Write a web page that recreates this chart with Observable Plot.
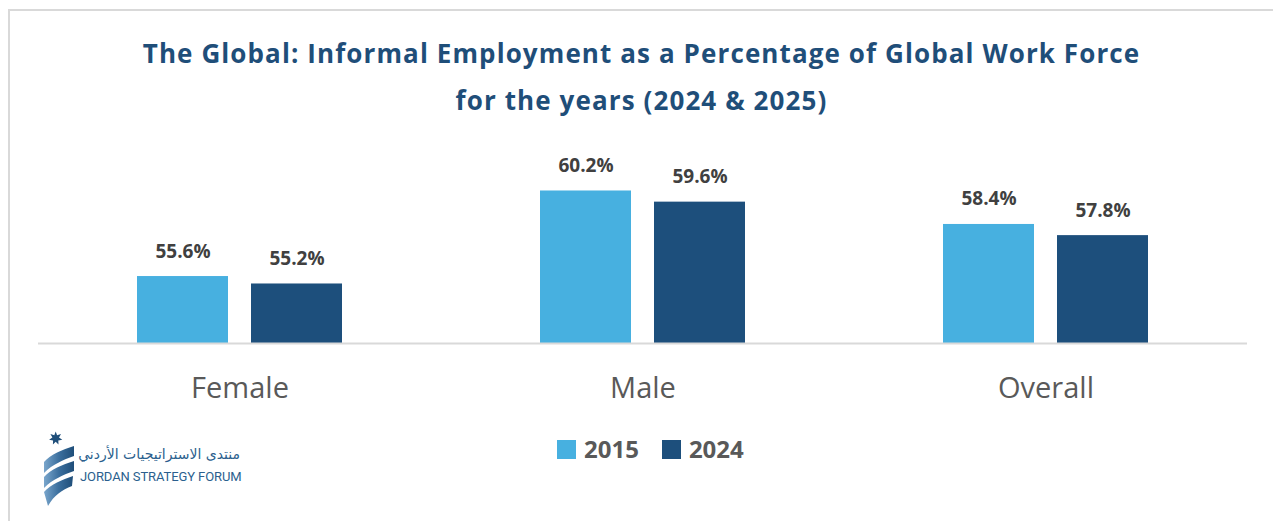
<!DOCTYPE html>
<html>
<head>
<meta charset="utf-8">
<script src="https://cdn.jsdelivr.net/npm/d3@7"></script>
<script src="https://cdn.jsdelivr.net/npm/@observablehq/plot@0.6"></script>
<style>
  html, body { margin: 0; padding: 0; background: #fff; }
  #page { position: relative; width: 1273px; height: 521px; overflow: hidden; background: #fff; }
  #frame { position: absolute; left: 8px; top: 9px; width: 1300px; height: 600px; border-top: 2px solid #d9d9d9; border-left: 2px solid #d9d9d9; }
  .title { position: absolute; left: 0; width: 1283px; text-align: center; font-family: "Open Sans", sans-serif; font-weight: 700; font-size: 26px; letter-spacing: 1.1px; color: #1f4e79; white-space: nowrap; line-height: 1; }
  #chart { position: absolute; left: 0; top: 131px; }
  #legend { position: absolute; top: 436px; left: 557px; font-family: "Open Sans", sans-serif; font-weight: 700; font-size: 24px; color: #595959; white-space: nowrap; line-height: 26px; }
  #legend span.item { display: inline-flex; align-items: center; }
  #legend span.sw { display: inline-block; width: 19px; height: 19px; margin-right: 8px; }
  #logo { position: absolute; left: 40px; top: 430px; }
  .ar { position: absolute; left: 80px; top: 446px; width: 160px; text-align: right; font-family: "DejaVu Sans", sans-serif; font-size: 14px; color: #2b5f8e; direction: rtl; white-space: nowrap; }
  .en { position: absolute; left: 80px; top: 469px; font-family: Roboto, sans-serif; font-size: 13px; letter-spacing: -0.1px; color: #2b5f8e; white-space: nowrap; }
</style>
</head>
<body>
<div id="page">
  <div id="frame"></div>
  <div class="title" style="top:40px">The Global: Informal Employment as a Percentage of Global Work Force</div>
  <div class="title" style="top:87px">for the years (2024 &amp; 2025)</div>
  <div id="chart"></div>
  <div id="legend"></div>
  <svg id="logo" width="40" height="80" viewBox="40 430 40 80">
    <defs>
      <linearGradient id="g1" x1="0" y1="0" x2="1" y2="0">
        <stop offset="0" stop-color="#7aa6cc"/>
        <stop offset="0.5" stop-color="#3b6f9e"/>
        <stop offset="1" stop-color="#1f4e79"/>
      </linearGradient>
    </defs>
    <polygon points="55.7,431.5 57.1,435.3 61,434 59,437.4 62.3,439.8 58.3,440.5 58.5,444.5 55.7,441.7 52.9,444.5 53.1,440.5 49.1,439.8 52.4,437.4 50.4,434 54.3,435.3" fill="#1f4e79"/>
    <path d="M44,462 C51,454 62,450 74,446 L74,456 C63,460 53,464 44,473 Z" fill="url(#g1)"/>
    <path d="M44,477 C51,469 62,465 74,461 L74,471 C63,475 53,479 44,488 Z" fill="url(#g1)"/>
    <path d="M44,492 C51,484 62,480 73,476 L72,486 C62,490 54,495 48,506 Z" fill="url(#g1)"/>
  </svg>
  <div class="ar">منتدى الاستراتيجيات الأردني</div>
  <div class="en">JORDAN STRATEGY FORUM</div>
</div>
<script>
const categories = ["Female", "Male", "Overall"];
const years = ["2015", "2024"];
const values2015 = [55.6, 60.2, 58.4];
const values2024 = [55.2, 59.6, 57.8];
const colors = ["#47b0e0", "#1d4f7c"];

const data = categories.flatMap((c, i) => [
  {category: c, year: years[0], value: values2015[i]},
  {category: c, year: years[1], value: values2024[i]}
]);

const base = 52;

const chart = Plot.plot({
  width: 1273,
  height: 300,
  marginLeft: 38,
  marginRight: 26,
  marginTop: 26,
  marginBottom: 88,
  style: {fontFamily: "'Open Sans', sans-serif", background: "transparent", overflow: "visible"},
  fx: {domain: categories, padding: 0, label: null},
  x: {domain: years, paddingInner: 0.2018, paddingOuter: 0.868, axis: null},
  y: {domain: [base, 62], axis: null},
  color: {domain: years, range: colors},
  marks: [
    Plot.barY(data, {fx: "category", x: "year", y1: base, y2: "value", fill: "year"}),
    Plot.ruleY([base], {stroke: "#d9d9d9", strokeWidth: 2}),
    Plot.text(data, {
      fx: "category", x: "year", y: "value",
      text: d => d.value.toFixed(1) + "%",
      lineAnchor: "bottom", dy: -19,
      fontSize: 19, fontWeight: 700, fill: "#404040"
    }),
    Plot.axisFx({anchor: "bottom", tickSize: 0, tickPadding: 34, fontSize: 29, fill: "#595959", label: null})
  ]
});
document.getElementById("chart").appendChild(chart);

const legend = document.getElementById("legend");
years.forEach((y, i) => {
  const item = document.createElement("span");
  item.className = "item";
  if (i > 0) item.style.marginLeft = "23px";
  const sw = document.createElement("span");
  sw.className = "sw";
  sw.style.background = colors[i];
  item.appendChild(sw);
  item.appendChild(document.createTextNode(y));
  legend.appendChild(item);
});
</script>
</body>
</html>
